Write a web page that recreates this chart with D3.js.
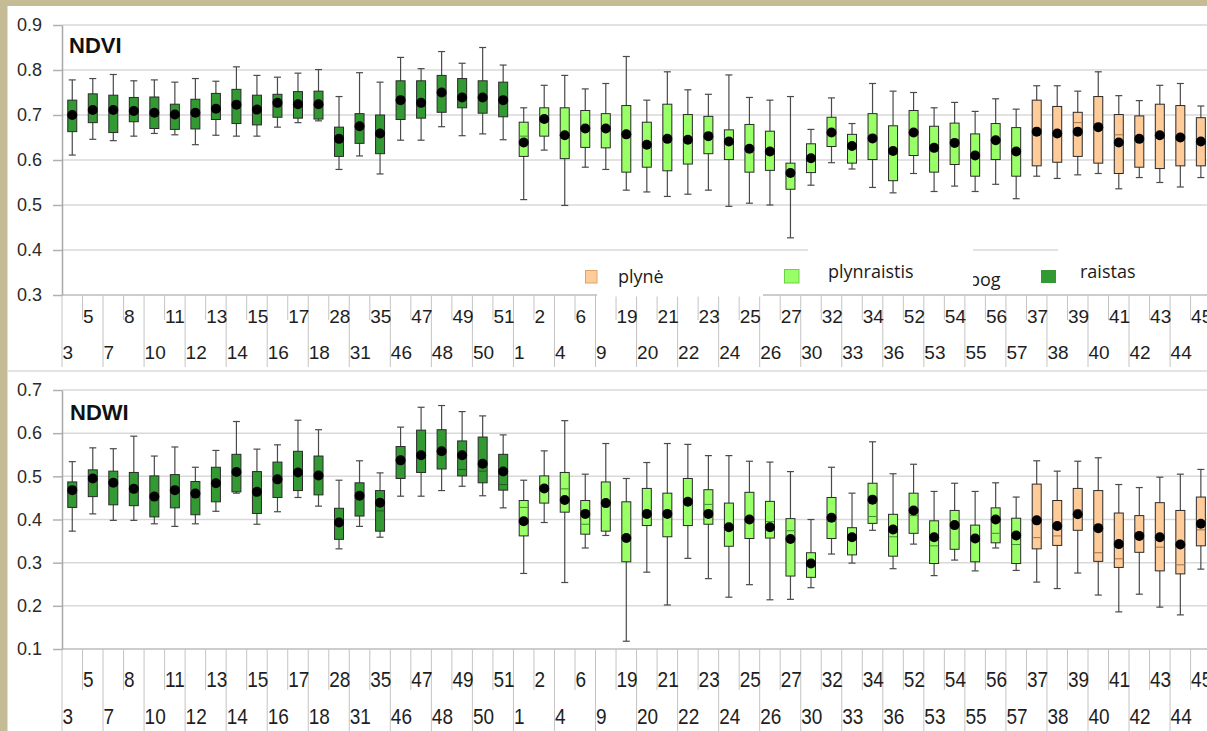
<!DOCTYPE html>
<html><head><meta charset="utf-8">
<script src="https://cdn.jsdelivr.net/npm/d3@7"></script>
<style>html,body{margin:0;padding:0;background:#fff;overflow:hidden}</style>
</head><body><svg id="c" width="1207" height="731"></svg>
<script>
// ---------- DATA ----------
const raistasCats = ["3","5","7","8","10","11","12","13","14","15","16","17","18","28","31","35","46","47","48","49","50","51"];
const plynraistisCats = ["1","2","4","6","9","19","20","21","22","23","24","25","26","27","30","32","33","34","36","52","53","54","55","56","57"];
const plyneCats = ["37","38","39","40","41","42","43","44","45"];
const categories = raistasCats.concat(plynraistisCats, plyneCats);

const legendLabels = ["plynė", "plynraistis", "bog", "raistas"];

const ndviTicks = [0.3,0.4,0.5,0.6,0.7,0.8,0.9];
const ndwiTicks = [0.1,0.2,0.3,0.4,0.5,0.6,0.7];

const ndviHigh = [0.778,0.781,0.790,0.776,0.778,0.773,0.781,0.775,0.807,0.788,0.784,0.793,0.801,0.741,0.794,0.773,0.828,0.803,0.841,0.815,0.850,0.811,
  0.716,0.766,0.788,0.758,0.770,0.830,0.733,0.796,0.756,0.746,0.789,0.739,0.733,0.741,0.668,0.738,0.681,0.770,0.753,0.750,0.716,0.728,0.708,0.736,0.713,
  0.765,0.765,0.753,0.796,0.743,0.732,0.766,0.770,0.720];
const ndviQ3 = [0.733,0.747,0.744,0.739,0.740,0.724,0.735,0.748,0.757,0.744,0.746,0.752,0.753,0.673,0.703,0.700,0.776,0.776,0.788,0.781,0.776,0.773,
  0.684,0.716,0.716,0.710,0.703,0.721,0.684,0.724,0.701,0.697,0.667,0.679,0.664,0.593,0.636,0.695,0.657,0.703,0.676,0.710,0.675,0.682,0.658,0.681,0.672,
  0.733,0.719,0.706,0.741,0.701,0.698,0.724,0.721,0.694];
const ndviMedian = [0.700,0.711,0.711,0.709,0.705,0.701,0.705,0.714,0.723,0.712,0.727,0.724,0.724,0.647,0.675,0.659,0.733,0.727,0.750,0.739,0.739,0.733,
  0.653,0.691,0.655,0.670,0.670,0.657,0.634,0.647,0.645,0.653,0.641,0.625,0.619,0.571,0.604,0.661,0.631,0.648,0.620,0.661,0.627,0.638,0.610,0.644,0.619,
  0.663,0.659,0.683,0.673,0.656,0.647,0.655,0.650,0.641];
const ndviMean = [0.700,0.711,0.711,0.709,0.705,0.701,0.705,0.714,0.723,0.712,0.727,0.724,0.724,0.647,0.675,0.659,0.733,0.727,0.750,0.739,0.739,0.733,
  0.639,0.691,0.655,0.670,0.670,0.657,0.634,0.647,0.645,0.653,0.641,0.625,0.619,0.571,0.604,0.661,0.631,0.648,0.620,0.661,0.627,0.638,0.610,0.644,0.619,
  0.663,0.659,0.663,0.673,0.639,0.647,0.655,0.650,0.641];
const ndviQ1 = [0.663,0.683,0.661,0.685,0.670,0.668,0.669,0.690,0.681,0.678,0.695,0.693,0.691,0.608,0.637,0.614,0.690,0.693,0.706,0.716,0.704,0.696,
  0.608,0.653,0.603,0.628,0.627,0.573,0.584,0.576,0.591,0.614,0.601,0.573,0.577,0.535,0.572,0.630,0.593,0.601,0.554,0.610,0.573,0.590,0.564,0.601,0.564,
  0.587,0.595,0.608,0.593,0.570,0.584,0.581,0.587,0.587];
const ndviLow = [0.611,0.646,0.643,0.653,0.659,0.656,0.634,0.655,0.653,0.653,0.673,0.683,0.687,0.579,0.609,0.569,0.644,0.644,0.674,0.654,0.658,0.645,
  0.512,0.622,0.499,0.584,0.579,0.533,0.529,0.519,0.524,0.533,0.497,0.504,0.500,0.427,0.544,0.594,0.580,0.539,0.527,0.570,0.530,0.542,0.530,0.546,0.514,
  0.564,0.559,0.567,0.570,0.536,0.561,0.550,0.540,0.561];

const ndwiHigh = [0.534,0.566,0.564,0.593,0.547,0.568,0.521,0.560,0.627,0.563,0.573,0.630,0.608,0.491,0.536,0.508,0.614,0.660,0.664,0.650,0.640,0.596,
  0.491,0.559,0.629,0.505,0.576,0.495,0.532,0.576,0.574,0.548,0.548,0.535,0.533,0.511,0.400,0.521,0.461,0.580,0.506,0.528,0.465,0.484,0.465,0.485,0.452,
  0.536,0.512,0.535,0.543,0.481,0.474,0.498,0.505,0.516];
const ndwiQ3 = [0.487,0.515,0.512,0.509,0.501,0.504,0.488,0.521,0.551,0.511,0.533,0.558,0.547,0.426,0.485,0.467,0.569,0.607,0.608,0.582,0.591,0.551,
  0.444,0.501,0.509,0.444,0.487,0.441,0.472,0.461,0.495,0.469,0.438,0.463,0.442,0.402,0.323,0.451,0.381,0.484,0.412,0.461,0.397,0.421,0.387,0.427,0.403,
  0.482,0.444,0.472,0.467,0.415,0.409,0.439,0.421,0.452];
const ndwiMedian = [0.468,0.495,0.485,0.471,0.453,0.468,0.460,0.484,0.510,0.464,0.493,0.509,0.502,0.393,0.455,0.420,0.537,0.549,0.558,0.516,0.512,0.481,
  0.428,0.472,0.471,0.389,0.438,0.357,0.413,0.413,0.441,0.435,0.382,0.400,0.395,0.374,0.298,0.404,0.359,0.407,0.360,0.409,0.339,0.387,0.356,0.368,0.342,
  0.358,0.362,0.422,0.323,0.309,0.362,0.336,0.295,0.376];
const ndwiMean = [0.468,0.495,0.485,0.471,0.453,0.468,0.460,0.484,0.510,0.464,0.493,0.509,0.502,0.393,0.455,0.439,0.537,0.549,0.558,0.549,0.529,0.511,
  0.396,0.472,0.445,0.413,0.438,0.357,0.413,0.413,0.441,0.413,0.382,0.400,0.382,0.355,0.298,0.404,0.359,0.446,0.377,0.421,0.359,0.387,0.356,0.400,0.363,
  0.398,0.385,0.412,0.380,0.343,0.362,0.359,0.342,0.390];
const ndwiQ1 = [0.428,0.453,0.434,0.432,0.406,0.427,0.411,0.441,0.464,0.414,0.451,0.467,0.457,0.354,0.408,0.373,0.495,0.509,0.517,0.501,0.485,0.468,
  0.362,0.438,0.417,0.366,0.373,0.302,0.386,0.360,0.386,0.389,0.338,0.356,0.357,0.269,0.266,0.356,0.318,0.391,0.315,0.368,0.298,0.331,0.302,0.346,0.298,
  0.332,0.340,0.375,0.303,0.289,0.324,0.281,0.274,0.339];
const ndwiLow = [0.373,0.413,0.398,0.398,0.390,0.384,0.390,0.419,0.461,0.389,0.418,0.451,0.431,0.332,0.384,0.359,0.454,0.454,0.467,0.477,0.455,0.427,
  0.275,0.393,0.254,0.334,0.363,0.118,0.278,0.202,0.310,0.263,0.220,0.249,0.214,0.215,0.242,0.320,0.299,0.375,0.286,0.343,0.270,0.306,0.281,0.334,0.282,
  0.255,0.240,0.276,0.225,0.186,0.227,0.197,0.179,0.285];

// ---------- STYLE ----------
const fills = {raistas:"#339933", plynraistis:"#99ff66", plyne:"#ffcc99"};
const medStroke = {raistas:"#1d5e1d", plynraistis:"#3f8f2a", plyne:"#a8703c"};
function groupOf(c){ return raistasCats.includes(c) ? "raistas" : plynraistisCats.includes(c) ? "plynraistis" : "plyne"; }

const W = 1207, H = 731;
const svg = d3.select("#c");
svg.append("rect").attr("width",W).attr("height",H).attr("fill","#c5bc95");
svg.append("rect").attr("x",7.5).attr("y",6).attr("width",W).attr("height",H).attr("fill","#fff");
svg.append("line").attr("x1",8).attr("x2",W).attr("y1",371).attr("y2",371).attr("stroke","#e4e4e4").attr("stroke-width",2);

const X0 = 62, BAND = 20.52;
const x = d3.scaleBand().domain(categories).range([X0, X0 + BAND*categories.length]).padding(0);
const cx = c => x(c) + x.bandwidth()/2;

function drawPanel(p){
  const g = svg.append("g");
  const y = d3.scaleLinear().domain([p.ticks[0], p.ticks[p.ticks.length-1]]).range(p.range);
  // gridlines
  g.selectAll(".grid").data(p.ticks.slice(1)).enter().append("line")
    .attr("x1",X0).attr("x2",W).attr("y1",d=>y(d)).attr("y2",d=>y(d))
    .attr("stroke","#d9d9d9").attr("stroke-width",1.5);
  // x axis line
  g.append("line").attr("x1",X0).attr("x2",W).attr("y1",y(p.ticks[0])).attr("y2",y(p.ticks[0]))
    .attr("stroke","#bdbdbd").attr("stroke-width",1.5);
  // category label separators and labels
  const base = y(p.ticks[0]);
  g.selectAll(".sep").data(categories).enter().append("line")
    .attr("x1",d=>x(d)).attr("x2",d=>x(d)).attr("y1",base)
    .attr("y2",(d,i)=> i%2===0 ? p.lowEnd : p.upEnd)
    .attr("stroke","#c4c4c4").attr("stroke-width",1);
  g.selectAll(".xl").data(categories).enter().append("text")
    .attr("transform",(d,i)=>`translate(${x(d)+0.5},${i%2===0 ? p.lowBase : p.upBase}) scale(1,${p.vs})`)
    .attr("font-family","Liberation Sans, Arial, sans-serif").attr("font-size",19)
    .attr("fill","#1e1e1e").text(d=>d);
  // y axis
  const ax = g.append("g").attr("transform",`translate(${X0},0)`)
    .call(d3.axisLeft(y).tickValues(p.ticks).tickFormat(d3.format(".1f")).tickSize(9).tickSizeOuter(0).tickPadding(11));
  ax.select(".domain").attr("stroke","#a8a8a8").attr("stroke-width",1.5);
  ax.selectAll(".tick line").attr("stroke","#b0b0b0").attr("stroke-width",1.5);
  ax.selectAll(".tick text").attr("font-family","Liberation Sans, Arial, sans-serif").attr("font-size",18).attr("fill","#2a2a2a");
  // boxes
  const rows = categories.map((c,i)=>({c, hi:p.hi[i], q3:p.q3[i], med:p.med[i], mean:p.mean[i], q1:p.q1[i], lo:p.lo[i], grp:groupOf(c)}));
  const bw = 9, cap = 3.5;
  const b = g.selectAll(".box").data(rows).enter().append("g");
  b.append("line").attr("x1",d=>cx(d.c)).attr("x2",d=>cx(d.c)).attr("y1",d=>y(d.lo)).attr("y2",d=>y(d.hi))
    .attr("stroke","#4a4a4a").attr("stroke-width",1.2);
  b.append("line").attr("x1",d=>cx(d.c)-cap).attr("x2",d=>cx(d.c)+cap).attr("y1",d=>y(d.hi)).attr("y2",d=>y(d.hi))
    .attr("stroke","#4a4a4a").attr("stroke-width",1.2);
  b.append("line").attr("x1",d=>cx(d.c)-cap).attr("x2",d=>cx(d.c)+cap).attr("y1",d=>y(d.lo)).attr("y2",d=>y(d.lo))
    .attr("stroke","#4a4a4a").attr("stroke-width",1.2);
  b.append("rect").attr("x",d=>cx(d.c)-bw/2).attr("width",bw).attr("y",d=>y(d.q3)).attr("height",d=>y(d.q1)-y(d.q3))
    .attr("fill",d=>fills[d.grp]).attr("stroke","#2a2a2a").attr("stroke-width",1);
  b.append("line").attr("x1",d=>cx(d.c)-bw/2+0.5).attr("x2",d=>cx(d.c)+bw/2-0.5).attr("y1",d=>y(d.med)).attr("y2",d=>y(d.med))
    .attr("stroke",d=>medStroke[d.grp]).attr("stroke-width",1);
  b.append("circle").attr("cx",d=>cx(d.c)).attr("cy",d=>y(d.mean)).attr("r",5).attr("fill","#000");
  // title
  g.append("text").attr("x",p.titleX).attr("y",p.titleY).attr("font-family","Liberation Sans, Arial, sans-serif")
    .attr("font-weight","bold").attr("font-size",22).attr("fill","#111").text(p.title);
  return g;
}

drawPanel({title:"NDVI", titleX:69, titleY:53, ticks:ndviTicks, range:[295,25],
  hi:ndviHigh, q3:ndviQ3, med:ndviMedian, mean:ndviMean, q1:ndviQ1, lo:ndviLow,
  upBase:323, lowBase:359, upEnd:320, lowEnd:367, vs:1.0});
drawPanel({title:"NDWI", titleX:70, titleY:420, ticks:ndwiTicks, range:[649,390],
  hi:ndwiHigh, q3:ndwiQ3, med:ndwiMedian, mean:ndwiMean, q1:ndwiQ1, lo:ndwiLow,
  upBase:687, lowBase:724, upEnd:690, lowEnd:731, vs:1.15});

// ---------- LEGEND (overlapping white entry boxes, as in the original) ----------
const lg = svg.append("g").attr("font-family","Open Sans, Noto Sans, sans-serif").attr("font-size",18).attr("fill","#1a1a1a");
// plynė entry
lg.append("rect").attr("x",597).attr("y",253).attr("width",166).attr("height",43.5).attr("fill","#fff");
lg.append("rect").attr("x",585.5).attr("y",270.5).attr("width",11.5).attr("height",12.5).attr("fill",fills.plyne).attr("stroke","#d9a56f").attr("stroke-width",1);
lg.append("text").attr("x",618).attr("y",283).text(legendLabels[0]);
// bog entry (partly hidden behind the next box)
lg.append("rect").attr("x",948).attr("y",256).attr("width",110).attr("height",36).attr("fill","#fff");
lg.append("text").attr("x",969).attr("y",286).text(legendLabels[2]);
// plynraistis entry
lg.append("rect").attr("x",808).attr("y",244).attr("width",165).attr("height",49).attr("fill","#fff");
lg.append("rect").attr("x",784.5).attr("y",269.5).attr("width",14.5).attr("height",13.5).attr("fill",fills.plynraistis).attr("stroke","#6fcf4a").attr("stroke-width",1);
lg.append("text").attr("x",828).attr("y",278).text(legendLabels[1]);
// raistas entry
lg.append("rect").attr("x",1058).attr("y",244).attr("width",160).attr("height",49).attr("fill","#fff");
lg.append("rect").attr("x",1041).attr("y",270).attr("width",15).attr("height",13).attr("fill",fills.raistas);
lg.append("text").attr("x",1080).attr("y",278).text(legendLabels[3]);
</script></body></html>
